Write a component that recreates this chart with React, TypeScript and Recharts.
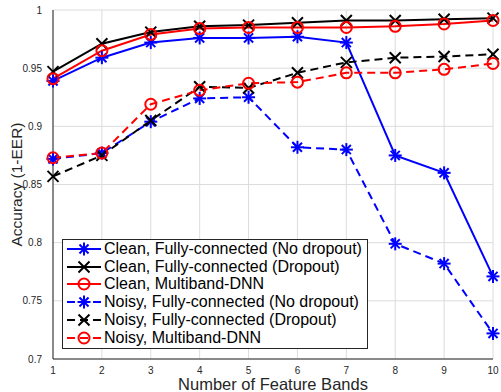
import { LineChart, Line, XAxis, YAxis, CartesianGrid } from "recharts";

const bands = [1, 2, 3, 4, 5, 6, 7, 8, 9, 10];
const yTicks = [0.7, 0.75, 0.8, 0.85, 0.9, 0.95, 1];

const cleanFcNoDrop = [0.939, 0.959, 0.972, 0.976, 0.976, 0.977, 0.972, 0.875, 0.86, 0.771];
const cleanFcDrop = [0.947, 0.971, 0.981, 0.986, 0.987, 0.989, 0.991, 0.991, 0.992, 0.993];
const cleanMb = [0.941, 0.965, 0.979, 0.984, 0.985, 0.985, 0.985, 0.986, 0.988, 0.991];
const noisyFcNoDrop = [0.872, 0.877, 0.904, 0.924, 0.925, 0.882, 0.88, 0.799, 0.782, 0.722];
const noisyFcDrop = [0.857, 0.875, 0.905, 0.934, 0.933, 0.946, 0.955, 0.959, 0.96, 0.962];
const noisyMb = [0.873, 0.877, 0.919, 0.931, 0.937, 0.938, 0.946, 0.946, 0.949, 0.954];

const series = [
  { key: "cleanFcNoDrop", name: "Clean, Fully-connected (No dropout)", values: cleanFcNoDrop, color: "#0000ff", marker: "star", dashed: false },
  { key: "cleanFcDrop", name: "Clean, Fully-connected (Dropout)", values: cleanFcDrop, color: "#000000", marker: "x", dashed: false },
  { key: "cleanMb", name: "Clean, Multiband-DNN", values: cleanMb, color: "#ff0000", marker: "o", dashed: false },
  { key: "noisyFcNoDrop", name: "Noisy, Fully-connected (No dropout)", values: noisyFcNoDrop, color: "#0000ff", marker: "star", dashed: true },
  { key: "noisyFcDrop", name: "Noisy, Fully-connected (Dropout)", values: noisyFcDrop, color: "#000000", marker: "x", dashed: true },
  { key: "noisyMb", name: "Noisy, Multiband-DNN", values: noisyMb, color: "#ff0000", marker: "o", dashed: true },
];

const data = bands.map((b, i) => {
  const row: Record<string, number> = { band: b };
  series.forEach((s) => (row[s.key] = s.values[i]));
  return row;
});

const FONT = "'Liberation Sans', Arial, Helvetica, sans-serif";

function Marker({ cx, cy, type, color }: { cx: number; cy: number; type: string; color: string }) {
  const r = 6.5;
  if (type === "o") {
    return <circle cx={cx} cy={cy} r={5.5} fill="none" stroke={color} strokeWidth={2} />;
  }
  if (type === "x") {
    const d = 5.5;
    return (
      <g stroke={color} strokeWidth={2}>
        <line x1={cx - d} y1={cy - d} x2={cx + d} y2={cy + d} />
        <line x1={cx - d} y1={cy + d} x2={cx + d} y2={cy - d} />
      </g>
    );
  }
  const d = r * 0.7;
  return (
    <g stroke={color} strokeWidth={2}>
      <line x1={cx - r} y1={cy} x2={cx + r} y2={cy} />
      <line x1={cx} y1={cy - r} x2={cx} y2={cy + r} />
      <line x1={cx - d} y1={cy - d} x2={cx + d} y2={cy + d} />
      <line x1={cx - d} y1={cy + d} x2={cx + d} y2={cy - d} />
    </g>
  );
}

function LegendBox() {
  return (
    <div
      style={{
        position: "absolute",
        left: 62,
        top: 239,
        width: 304,
        height: 108,
        border: "1px solid #262626",
        background: "#fff",
        fontFamily: FONT,
        fontSize: 16,
        color: "#000",
        boxSizing: "content-box",
      }}
    >
      {series.map((s, i) => (
        <div key={s.key} style={{ position: "absolute", left: 0, top: 0 + i * 17.7, height: 18, display: "flex", alignItems: "center", whiteSpace: "nowrap" }}>
          <svg width={40} height={18} style={{ display: "block" }}>
            <line x1={4} y1={9} x2={38} y2={9} stroke={s.color} strokeWidth={2} strokeDasharray={s.dashed ? "8 5" : undefined} />
            <Marker cx={21} cy={9} type={s.marker} color={s.color} />
          </svg>
          <span style={{ marginLeft: 1 }}>{s.name}</span>
        </div>
      ))}
    </div>
  );
}

export default function App() {
  return (
    <div style={{ position: "absolute", left: 0, top: 0, width: 501, height: 392, background: "#fff" }}>
      <LineChart width={501} height={392} data={data} margin={{ top: 10, right: 8, left: 0, bottom: 0 }}>
        <CartesianGrid stroke="#dcdcdc" strokeWidth={1} />
        <XAxis
          dataKey="band"
          type="number"
          domain={[1, 10]}
          ticks={bands}
          height={33}
          stroke="#262626"
          tickLine={false}
          tick={{ fontSize: 10, fill: "#262626", fontFamily: FONT }}
          tickMargin={2}
          label={{ value: "Number of Feature Bands", position: "insideBottom", offset: 2, fontSize: 16.5, fill: "#262626", fontFamily: FONT }}
        />
        <XAxis xAxisId="top" dataKey="band" type="number" domain={[1, 10]} orientation="top" height={0} tick={false} tickLine={false} stroke="#262626" />
        <YAxis
          type="number"
          domain={[0.7, 1]}
          ticks={yTicks}
          width={53}
          stroke="#262626"
          tickLine={false}
          tickMargin={5}
          tickFormatter={(v: number) => String(Number(v.toFixed(2)))}
          tick={{ fontSize: 10, fill: "#262626", fontFamily: FONT }}
          label={{ value: "Accuracy (1-EER)", angle: -90, position: "insideLeft", offset: 0, dx: 16, style: { textAnchor: "middle" }, fontSize: 15.5, fill: "#262626", fontFamily: FONT }}
        />
        <YAxis yAxisId="right" type="number" domain={[0.7, 1]} orientation="right" width={0} tick={false} tickLine={false} stroke="#262626" />
        {series.map((s) => (
          <Line
            key={s.key}
            dataKey={s.key}
            name={s.name}
            type="linear"
            stroke={s.color}
            strokeWidth={2}
            strokeDasharray={s.dashed ? "8 5" : undefined}
            isAnimationActive={false}
            dot={(p: any) => <Marker key={`${s.key}-${p.index}`} cx={p.cx} cy={p.cy} type={s.marker} color={s.color} />}
            activeDot={false}
          />
        ))}
      </LineChart>
      <LegendBox />
    </div>
  );
}
